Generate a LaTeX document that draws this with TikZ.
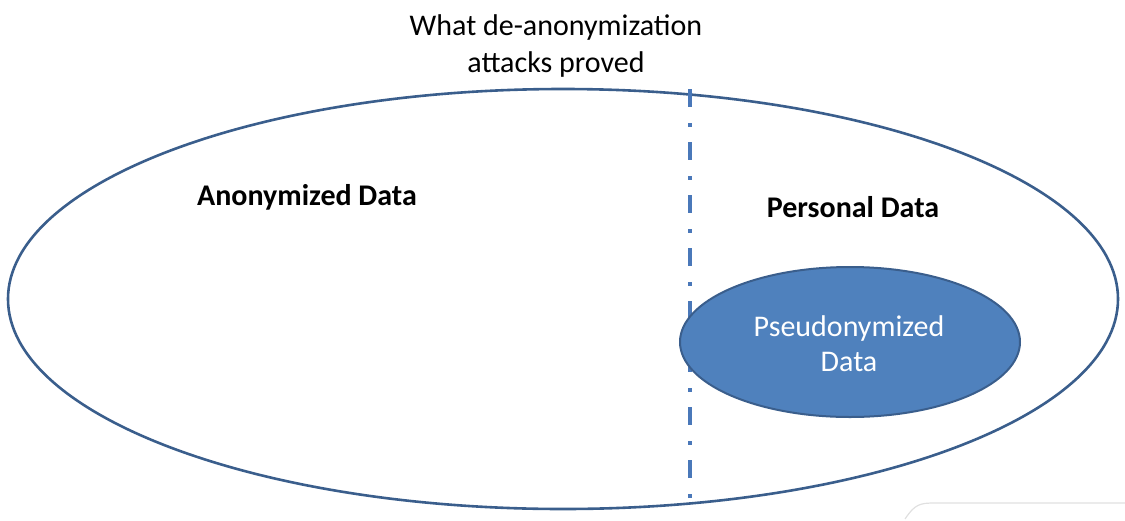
\documentclass[tikz,border=0pt]{standalone}
\usepackage{fontspec}
\setmainfont{Carlito}
\usetikzlibrary{shapes.geometric}
\definecolor{edgeblue}{RGB}{58,94,140}
\definecolor{fillblue}{RGB}{79,129,189}
\definecolor{dashblue}{RGB}{74,120,185}
\tikzset{
  oval/.style={ellipse, draw=edgeblue, line width=2.6pt, inner sep=0pt},
  label/.style={font=\fontsize{30}{36}\selectfont, text=black, inner sep=0pt},
  boldlabel/.style={label, font=\fontsize{30}{36}\selectfont\bfseries},
  divider/.style={draw=dashblue, line width=4pt, dash pattern=on 18pt off 16pt on 4pt off 15pt}
}
\begin{document}
\begin{tikzpicture}[x=1pt,y=-1pt]
\useasboundingbox (0,0) rectangle (1125,520);
% faint screenshot artifact
\draw[black!12, line width=1.2pt] (905,519) .. controls (915,504) and (920,503) .. (935,503) -- (1125,503);
\node[oval, minimum width=1110pt, minimum height=420pt] (big) at (563,299) {};
\coordinate (dtop) at (690,89);
\coordinate (dbot) at (690,500);
\draw[divider] (dtop) -- (dbot);
\node[oval, fill=fillblue, line width=2pt, minimum width=340pt, minimum height=150pt] (pseudo) at (850,342) {};
\node[label, align=center, font=\fontsize{30}{37}\selectfont] (title) at (556,46) {What de-anonymization\\attacks proved};
\node[boldlabel] (anon) at (307,197) {Anonymized Data};
\node[boldlabel] (pers) at (853,207) {Personal Data};
\node[label, text=white, align=center, font=\fontsize{30}{35}\selectfont] (ptext) at (849,344) {Pseudonymized\\Data};
\end{tikzpicture}
\end{document}
